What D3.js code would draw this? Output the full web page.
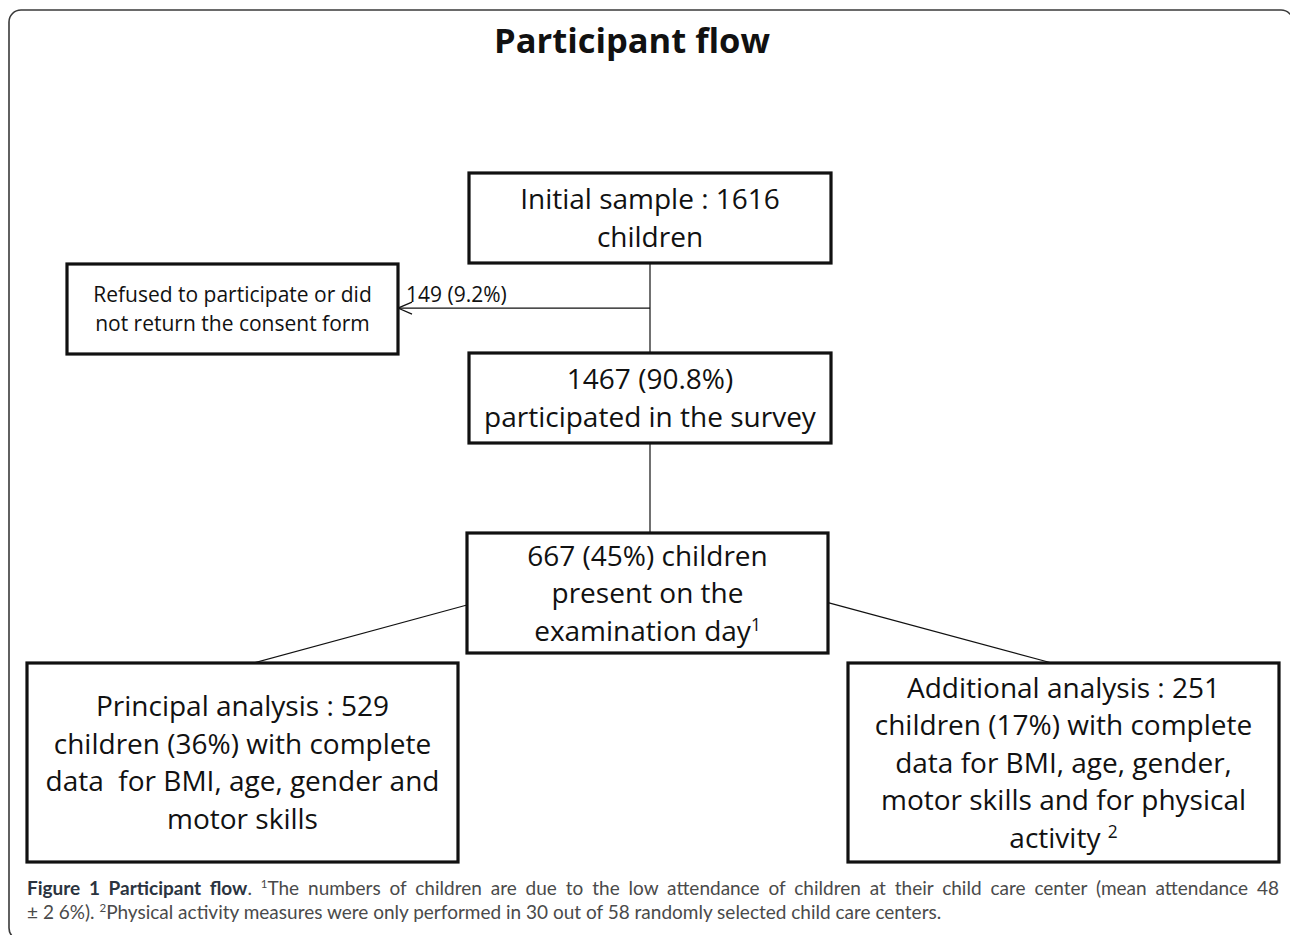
<!DOCTYPE html>
<html>
<head>
<meta charset="utf-8">
<script src="https://cdn.jsdelivr.net/npm/d3@7"></script>
<style>
  html, body { margin: 0; padding: 0; background: #fff; }
  svg { display: block; }
</style>
</head>
<body>
<svg id="chart" width="1290" height="935"></svg>
<script>
(function () {
    'use strict';

    // flow steps (text only)
    const stepIds = ['initial', 'refused', 'participated', 'present', 'principal', 'additional'];
    const stepLines = [
        ['Initial sample : 1616', 'children'],
        ['Refused to participate or did', 'not return the consent form'],
        ['1467 (90.8%)', 'participated in the survey'],
        ['667 (45%) children', 'present on the', 'examination day|1'],
        ['Principal analysis : 529', 'children (36%) with complete', 'data  for BMI, age, gender and', 'motor skills'],
        ['Additional analysis : 251', 'children (17%) with complete', 'data for BMI, age, gender,', 'motor skills and for physical', 'activity |2'],
    ];
    const counts = [1616, 149, 1467, 667, 529, 251];

    // connections: [from, to, kind]
    const links = [
        ['initial', 'participated', 'down'],
        ['participated', 'present', 'down'],
        ['present', 'principal', 'split-left'],
        ['present', 'additional', 'split-right'],
    ];
    const exclusionLabel = '149 (9.2%)';

    const titleText = 'Participant flow';
    const captionLines = [
        [['b', 'Figure 1 Participant flow'], ['t', '. '], ['s', '1'], ['t', 'The numbers of children are due to the low attendance of children at their child care center (mean attendance 48']],
        [['t', '± 2 6%). '], ['s', '2'], ['t', 'Physical activity measures were only performed in 30 out of 58 randomly selected child care centers.']],
    ];

    // layout (pixel geometry of the boxes)
    const layout = {
        initial:      { x: 469, y: 173, w: 362, h: 90,  fs: 28 },
        refused:      { x: 67,  y: 264, w: 331, h: 90,  fs: 21, lh: 29 },
        participated: { x: 469, y: 353, w: 362, h: 90,  fs: 28 },
        present:      { x: 467, y: 533, w: 361, h: 120, fs: 28 },
        principal:    { x: 27,  y: 663, w: 431, h: 199, fs: 28 },
        additional:   { x: 848, y: 663, w: 431, h: 199, fs: 28 },
    };
    const font = '"Open Sans", "Noto Sans", sans-serif';
    const capFont = 'Lato, "Open Sans", sans-serif';
    const lineH = 37.5;

    const svg = d3.select('#chart');
    const x = d3.scaleIdentity().domain([0, 1290]);
    const y = d3.scaleIdentity().domain([0, 935]);

    // outer frame (bottom and right edges fall outside the picture)
    svg.append('rect')
        .attr('x', x(9)).attr('y', y(10))
        .attr('width', 1284).attr('height', 930)
        .attr('rx', 12)
        .attr('fill', 'none')
        .attr('stroke', '#3a3a3a')
        .attr('stroke-width', 1.6);

    svg.append('text')
        .attr('x', x(632)).attr('y', y(53))
        .attr('text-anchor', 'middle')
        .attr('font-family', font)
        .attr('font-weight', 700)
        .attr('font-size', 34.5)
        .attr('fill', '#111')
        .text(titleText);

    const steps = stepIds.map((id, i) => Object.assign({ id, lines: stepLines[i], n: counts[i] }, layout[id]));
    const byId = Object.fromEntries(steps.map((s) => [s.id, s]));

    // connectors
    const g = svg.append('g').attr('stroke', '#111').attr('stroke-width', 1.2).attr('fill', 'none');
    links.forEach(([from, to, kind]) => {
        const a = byId[from];
        const b = byId[to];
        let p;
        if (kind === 'down') {
            const cx = a.x + a.w / 2;
            p = [[cx, a.y + a.h], [cx, b.y]];
        } else if (kind === 'split-left') {
            p = [[a.x, a.y + a.h * 0.6], [b.x + 0.525 * b.w, b.y]];
        } else {
            p = [[a.x + a.w, a.y + a.h * 0.58], [b.x + 0.473 * b.w, b.y]];
        }
        g.append('path').attr('d', d3.line()(p.map(([px, py]) => [x(px), y(py)])));
    });

    // exclusion arrow
    const ini = byId.initial;
    const ref = byId.refused;
    const ay = ref.y + ref.h * 0.49;
    const ax0 = ini.x + ini.w / 2;
    const ax1 = ref.x + ref.w;
    g.append('path').attr('d', d3.line()([[x(ax0), y(ay)], [x(ax1), y(ay)]]));
    g.append('path').attr('d', d3.line()([[x(ax1 + 14), y(ay - 6)], [x(ax1), y(ay)], [x(ax1 + 14), y(ay + 6)]]));

    svg.append('text')
        .attr('x', x(ax1 + 8)).attr('y', y(ay - 6))
        .attr('font-family', font)
        .attr('font-size', 21)
        .attr('fill', '#111')
        .text(exclusionLabel);

    // boxes
    const box = svg.selectAll('g.step').data(steps).join('g').attr('class', 'step');
    box.append('rect')
        .attr('x', (d) => x(d.x)).attr('y', (d) => y(d.y))
        .attr('width', (d) => d.w).attr('height', (d) => d.h)
        .attr('fill', '#fff')
        .attr('stroke', '#111')
        .attr('stroke-width', 3.2);

    box.each(function (d) {
        const lh = d.lh || lineH;
        const cy = d.y + d.h / 2;
        const t = d3.select(this).append('text')
            .attr('text-anchor', 'middle')
            .attr('font-family', font)
            .attr('font-size', d.fs)
            .attr('fill', '#111')
            .attr('xml:space', 'preserve');
        d.lines.forEach((line, i) => {
            const base = cy + (i - (d.lines.length - 1) / 2) * lh + d.fs * 0.36;
            const [main, sup] = line.split('|');
            t.append('tspan')
                .attr('x', x(d.x + d.w / 2))
                .attr('y', y(base))
                .text(main);
            if (sup) {
                t.append('tspan')
                    .attr('dy', -d.fs * 0.36)
                    .attr('font-size', d.fs * 0.62)
                    .text(sup);
            }
        });
    });

    // caption, first line justified by word spacing
    const capX0 = 27;
    const capX1 = 1279;
    captionLines.forEach((parts, i) => {
        const t = svg.append('text')
            .attr('x', x(capX0))
            .attr('y', y(895 + i * 24))
            .attr('font-family', capFont)
            .attr('font-size', 19)
            .attr('fill', '#4a4a4a')
            .attr('xml:space', 'preserve');
        parts.forEach(([kind, str]) => {
            const s = t.append('tspan').text(str);
            if (kind === 'b') s.attr('font-weight', 700).attr('fill', '#2b3440');
            if (kind === 's') s.attr('font-size', 11.5).attr('baseline-shift', '7');
        });
        if (i === 0) {
            const len = t.node().getComputedTextLength();
            const gaps = parts.map((p) => p[1]).join('').split(' ').length - 1;
            t.attr('word-spacing', Math.max(0, (capX1 - capX0 - len) / gaps));
        }
    });
})();
</script>
</body>
</html>
